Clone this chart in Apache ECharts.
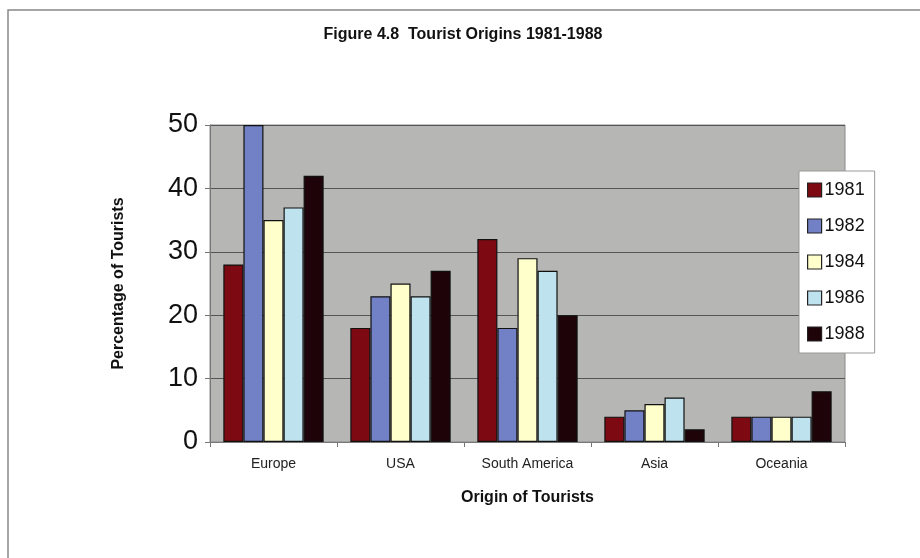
<!DOCTYPE html>
<html>
<head>
<meta charset="utf-8">
<title>Tourist Origins 1981-1988</title>
<script src="https://cdn.jsdelivr.net/npm/echarts@6/dist/echarts.min.js"></script>
<style>
  html, body { margin: 0; padding: 0; background: #fff; }
  #chart { width: 920px; height: 558px; }
</style>
</head>
<body>
<div id="chart"></div>
<script>
// data
const origins = ['Europe', 'USA', 'South America', 'Asia', 'Oceania']
const years = ['1981', '1982', '1984', '1986', '1988']
const y1981 = [28, 18, 32, 4, 4]
const y1982 = [50, 23, 18, 5, 4]
const y1984 = [35, 25, 29, 6, 4]
const y1986 = [37, 23, 27, 7, 4]
const y1988 = [42, 27, 20, 2, 8]
const yTicks = [0, 10, 20, 30, 40, 50]

const colors = ['#7d0a12', '#7281c6', '#ffffcc', '#bfe2ef', '#1e0309']
const values = [y1981, y1982, y1984, y1986, y1988]

const chart = echarts.init(document.getElementById('chart'))

chart.setOption({
  backgroundColor: '#fff',
  animation: false,
  title: {
    text: 'Figure 4.8  Tourist Origins 1981-1988',
    left: 458,
    textAlign: 'center',
    top: 22,
    textStyle: {
      fontFamily: 'Liberation Sans Narrow, Arial Narrow, Liberation Sans, sans-serif',
      fontWeight: 'bold',
      fontSize: 16,
      color: '#111'
    }
  },
  // outer frame of the figure
  graphic: [
    {
      type: 'polyline',
      shape: { points: [[8, 558], [8, 10], [920, 10]] },
      style: { stroke: '#888', lineWidth: 1.5, fill: null },
      silent: true
    }
  ],
  legend: {
    orient: 'vertical',
    left: 799,
    top: 171,
    data: years,
    icon: 'rect',
    backgroundColor: '#fff',
    borderColor: '#999',
    borderWidth: 1,
    padding: [10, 10, 10, 8],
    itemGap: 18,
    itemWidth: 14,
    itemHeight: 14,
    itemStyle: { borderColor: '#222', borderWidth: 1.2 },
    textStyle: {
      fontFamily: 'Liberation Sans, Arial, sans-serif',
      fontSize: 18,
      color: '#111',
      padding: [0, 0, 0, -2]
    }
  },
  grid: {
    left: 210,
    right: 75,
    top: 125,
    bottom: 116,
    show: true,
    backgroundColor: '#b6b6b4',
    borderColor: '#8a8a8a',
    borderWidth: 1
  },
  xAxis: {
    type: 'category',
    data: origins,
    name: 'Origin of Tourists',
    nameLocation: 'middle',
    nameGap: 48,
    nameTextStyle: {
      fontFamily: 'Liberation Sans, Arial, sans-serif',
      fontWeight: 'bold',
      fontSize: 16,
      color: '#111'
    },
    axisLine: { lineStyle: { color: '#777' } },
    axisTick: { show: true, length: 5, lineStyle: { color: '#777' } },
    axisLabel: {
      margin: 15,
      fontFamily: 'Liberation Sans Narrow, Arial Narrow, Liberation Sans, sans-serif',
      fontSize: 14,
      color: '#222'
    }
  },
  yAxis: {
    type: 'value',
    min: yTicks[0],
    max: yTicks[yTicks.length - 1],
    interval: 10,
    name: 'Percentage of Tourists',
    nameLocation: 'middle',
    nameGap: 83,
    nameTextStyle: {
      fontFamily: 'Liberation Sans, Arial, sans-serif',
      fontWeight: 'bold',
      fontSize: 16,
      color: '#111'
    },
    axisLine: { show: true, lineStyle: { color: '#777' } },
    axisTick: { show: true, length: 5, lineStyle: { color: '#777' } },
    axisLabel: {
      margin: 12,
      fontFamily: 'Liberation Sans, Arial, sans-serif',
      fontSize: 27,
      color: '#111'
    },
    splitLine: { lineStyle: { color: '#555', width: 1.2 } }
  },
  series: years.map((yr, i) => ({
    name: yr,
    type: 'bar',
    data: values[i],
    barGap: '0%',
    barCategoryGap: '21%',
    itemStyle: {
      color: colors[i],
      borderColor: '#111',
      borderWidth: 1.2
    }
  }))
})
</script>
</body>
</html>
